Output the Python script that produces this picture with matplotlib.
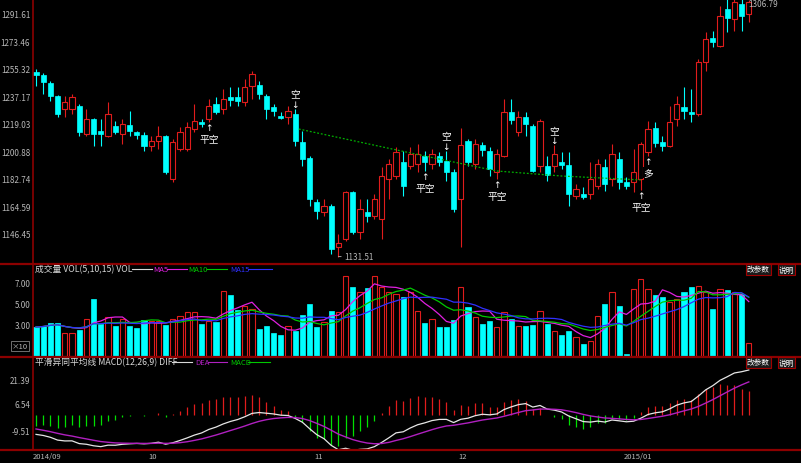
import numpy as np
import pandas as pd
import matplotlib
matplotlib.use('Agg')
import matplotlib.pyplot as plt
from matplotlib.patches import Rectangle
from matplotlib.lines import Line2D
import matplotlib.transforms as mtransforms

plt.rcParams['font.family'] = ['Noto Sans CJK SC', 'DejaVu Sans']

# ---------------- data ----------------
opens = [1253.3, 1251.3, 1246.1, 1237.5, 1228.9, 1228.9, 1230.9, 1212.4, 1222.3, 1214.4,
         1211.1, 1217.7, 1212.4, 1218.4, 1213.7, 1211.7, 1204.5, 1207.8, 1211.1, 1182.7,
         1202.5, 1202.5, 1215.7, 1220.3, 1222.3, 1232.2, 1228.9, 1236.8, 1236.8, 1233.5,
         1244.1, 1244.7, 1237.5, 1230.2, 1224.3, 1223.6, 1225.6, 1207.1, 1196.6, 1167.5,
         1160.9, 1164.9, 1137.9, 1143.1, 1174.1, 1147.7, 1160.9, 1158.3, 1156.3, 1182.7,
         1184.7, 1194.0, 1191.3, 1192.6, 1197.9, 1192.6, 1197.9, 1194.6, 1187.3, 1169.5,
         1207.8, 1192.6, 1205.2, 1201.2, 1187.3, 1197.9, 1226.9, 1213.7, 1223.6, 1217.7,
         1191.3, 1191.3, 1191.3, 1194.0, 1192.0, 1171.5, 1172.8, 1172.8, 1178.1, 1190.6,
         1182.7, 1195.9, 1180.7, 1180.7, 1182.7, 1200.6, 1216.4, 1207.1, 1204.5, 1222.3,
         1230.2, 1226.9, 1225.6, 1259.9, 1275.8, 1270.5, 1295.0, 1288.3, 1298.2, 1291.6]
highs = [1255.3, 1252.7, 1247.4, 1238.1, 1237.5, 1238.8, 1232.2, 1228.9, 1223.0, 1222.3,
         1233.5, 1221.0, 1222.3, 1227.6, 1214.4, 1213.7, 1211.1, 1217.7, 1211.7, 1209.1,
         1217.0, 1220.3, 1232.2, 1222.3, 1235.5, 1236.8, 1242.1, 1243.4, 1243.4, 1248.7,
         1254.0, 1247.4, 1238.8, 1232.2, 1226.9, 1230.9, 1228.9, 1214.4, 1197.9, 1169.5,
         1169.5, 1166.2, 1146.4, 1174.8, 1174.8, 1169.5, 1169.5, 1172.8, 1190.6, 1195.9,
         1203.8, 1201.2, 1203.8, 1205.8, 1201.2, 1202.5, 1200.6, 1201.2, 1189.3, 1216.4,
         1209.1, 1209.1, 1207.1, 1203.8, 1202.5, 1235.5, 1235.5, 1227.6, 1226.9, 1219.0,
         1222.3, 1197.9, 1205.0, 1200.6, 1200.6, 1179.4, 1177.4, 1194.0, 1195.9, 1195.9,
         1205.8, 1200.6, 1184.0, 1202.5, 1207.1, 1221.0, 1220.3, 1211.1, 1230.9, 1237.5,
         1243.4, 1242.1, 1261.9, 1279.7, 1280.4, 1296.9, 1302.5, 1304.0, 1306.79, 1301.0]
lows = [1244.1, 1238.8, 1234.2, 1223.6, 1223.6, 1225.6, 1211.1, 1211.1, 1204.5, 1204.5,
        1210.4, 1212.4, 1205.8, 1211.1, 1209.1, 1201.2, 1201.2, 1202.5, 1186.0, 1180.7,
        1201.5, 1201.2, 1213.7, 1217.0, 1220.3, 1225.6, 1225.6, 1230.9, 1230.9, 1230.9,
        1235.5, 1235.5, 1222.3, 1224.3, 1222.3, 1219.0, 1204.5, 1191.3, 1164.9, 1156.3,
        1158.3, 1133.2, 1131.51, 1141.8, 1146.4, 1143.1, 1154.3, 1156.3, 1143.1, 1169.5,
        1182.7, 1171.5, 1189.3, 1187.3, 1188.0, 1189.3, 1191.3, 1181.4, 1160.9, 1137.9,
        1191.3, 1189.3, 1197.9, 1184.7, 1182.7, 1197.3, 1219.0, 1211.1, 1211.1, 1187.3,
        1187.3, 1181.4, 1187.3, 1189.3, 1164.9, 1169.5, 1169.5, 1169.5, 1176.1, 1174.8,
        1178.1, 1176.1, 1176.1, 1174.1, 1175.5, 1197.9, 1203.8, 1201.2, 1203.8, 1217.7,
        1222.3, 1220.3, 1224.3, 1254.0, 1269.8, 1269.8, 1280.0, 1280.4, 1280.4, 1286.3]
closes = [1251.3, 1246.7, 1237.5, 1225.6, 1233.5, 1236.8, 1213.7, 1222.3, 1212.4, 1212.4,
          1225.6, 1213.7, 1219.0, 1214.4, 1211.7, 1204.5, 1207.8, 1211.1, 1187.3, 1207.1,
          1213.7, 1217.0, 1221.0, 1219.0, 1230.9, 1226.9, 1235.5, 1234.9, 1234.2, 1243.4,
          1252.0, 1238.8, 1228.9, 1227.6, 1222.9, 1227.6, 1207.8, 1195.9, 1169.5, 1161.6,
          1164.9, 1136.5, 1140.5, 1174.1, 1147.7, 1162.9, 1158.3, 1169.5, 1184.7, 1192.6,
          1200.6, 1178.1, 1199.2, 1199.2, 1194.0, 1199.2, 1194.0, 1187.3, 1162.9, 1205.2,
          1194.0, 1205.8, 1201.9, 1189.3, 1199.2, 1226.9, 1221.6, 1223.6, 1219.0, 1188.0,
          1221.0, 1185.3, 1199.2, 1192.0, 1172.8, 1176.1, 1170.8, 1182.7, 1192.6, 1179.4,
          1199.2, 1180.7, 1178.1, 1187.3, 1205.8, 1215.7, 1206.5, 1204.5, 1220.3, 1232.2,
          1227.6, 1225.6, 1259.9, 1275.1, 1273.1, 1290.3, 1289.0, 1299.5, 1290.3, 1299.5]
volumes = [2.76, 2.86, 3.14, 3.14, 2.19, 2.19, 2.48, 3.52, 5.43, 3.05,
           3.71, 2.86, 3.52, 2.86, 2.67, 3.43, 3.33, 3.33, 2.95, 3.52,
           3.81, 4.19, 4.19, 3.05, 3.33, 3.24, 6.19, 5.81, 4.38, 4.76,
           4.48, 2.57, 2.86, 2.19, 2.00, 2.86, 2.38, 3.90, 4.95, 2.76,
           3.24, 4.29, 4.19, 7.62, 6.57, 6.10, 6.48, 7.62, 6.57, 6.10,
           5.90, 5.62, 6.10, 4.29, 3.14, 3.52, 2.76, 2.76, 3.43, 6.57,
           4.67, 3.71, 3.05, 3.33, 2.76, 4.19, 3.52, 2.86, 2.86, 2.95,
           4.29, 3.05, 2.38, 2.00, 2.38, 1.81, 1.14, 1.43, 3.81, 4.95,
           6.10, 4.76, 0.19, 6.38, 7.33, 6.38, 5.81, 5.62, 5.14, 5.43,
           6.10, 6.57, 6.67, 6.10, 4.48, 6.38, 6.29, 6.10, 5.90, 1.24]

price_ticks = [1146.45, 1164.59, 1182.74, 1200.88, 1219.03, 1237.17, 1255.32, 1273.46, 1291.61]
vol_ticks = [3.0, 5.0, 7.0]
month_labels = ["2014/09", "10", "11", "12", "2015/01"]
month_starts = [0, 16, 39, 59, 82]

# trading signals: (bar index, text, side)
signals = [(24, "平空", "buy"), (36, "空", "sell"), (54, "平空", "buy"), (57, "空", "sell"),
           (64, "平空", "buy"), (72, "空", "sell"), (84, "平空", "buy"), (85, "多", "buy")]
# trailing stop line (bar index, price)
stop_idx = [36.5, 54, 64, 73, 84]
stop_val = [1215.7, 1197.9, 1188.0, 1184.7, 1182.1]

# MACD seeds (state before the first bar)
ema12_seed, ema26_seed, dea_seed = 1268.0, 1279.0, -7.5

# ---------------- styling ----------------
RED = '#e01c1c'
CYAN = '#00ffff'
GRAY = '#b8b8b8'
FRAME = '#8c0000'
W, H = 801, 464
n = len(closes)
x = np.arange(n)
bw = 0.72

fig = plt.figure(figsize=(W / 100, H / 100), dpi=100, facecolor='black')


def axrect(x0, y0, x1, y1):
    return [x0 / W, 1 - y1 / H, (x1 - x0) / W, (y1 - y0) / H]


ax_main = fig.add_axes(axrect(33, 0, 801, 264))
ax_vol = fig.add_axes(axrect(33, 266, 801, 357))
ax_macd = fig.add_axes(axrect(33, 359, 801, 450))
for a in (ax_main, ax_vol, ax_macd):
    a.set_facecolor('black')
    for s in a.spines.values():
        s.set_visible(False)
    a.set_xlim(-0.42, 106.25)
    a.set_xticks([])
    a.tick_params(axis='y', length=0, pad=2, labelsize=5.8, labelcolor=GRAY)

# ---------------- candlesticks ----------------
for i in range(n):
    o, h, l, c = opens[i], highs[i], lows[i], closes[i]
    if c >= o:
        ax_main.vlines(i, c, h, color=RED, lw=0.8)
        ax_main.vlines(i, l, o, color=RED, lw=0.8)
        ax_main.add_patch(Rectangle((i - bw / 2, o), bw, max(c - o, 0.3), facecolor='black',
                                    edgecolor=RED, lw=0.8))
    else:
        ax_main.vlines(i, l, h, color=CYAN, lw=0.8)
        ax_main.add_patch(Rectangle((i - bw / 2, c), bw, o - c, facecolor=CYAN,
                                    edgecolor=CYAN, lw=0.5))
ax_main.set_ylim(1127.3, 1301.5)
ax_main.set_yticks(price_ticks)
ax_main.set_yticklabels(["%.2f" % v for v in price_ticks])

# stop line
ax_main.plot(stop_idx, stop_val, color='#00b000', lw=0.9, ls=(0, (1.5, 1.5)))

# signals
for idx, txt, side in signals:
    if side == 'buy':
        ax_main.annotate('↑', (idx, lows[idx]), xytext=(0, -1), textcoords='offset points',
                         ha='center', va='top', color='white', fontsize=6.5,
                         family=['DejaVu Sans'])
        ax_main.annotate(txt, (idx, lows[idx]), xytext=(0, -8.5), textcoords='offset points',
                         ha='center', va='top', color='white', fontsize=7,
                         bbox=dict(boxstyle='square,pad=0.05', fc='black', ec='none'))
    else:
        ax_main.annotate('↓', (idx, highs[idx]), xytext=(0, 0), textcoords='offset points',
                         ha='center', va='bottom', color='white', fontsize=6.5,
                         family=['DejaVu Sans'])
        ax_main.annotate(txt, (idx, highs[idx]), xytext=(0, 7.5), textcoords='offset points',
                         ha='center', va='bottom', color='white', fontsize=7,
                         bbox=dict(boxstyle='square,pad=0.05', fc='black', ec='none'))

# low / high labels
imin = int(np.argmin(lows))
imax = int(np.argmax(highs))
ax_main.annotate("%.2f" % lows[imin], (imin, lows[imin]), xytext=(4, 0), textcoords='offset points',
                 ha='left', va='center', color=GRAY, fontsize=5.8,
                 arrowprops=dict(arrowstyle='-', color=GRAY, lw=0.6, shrinkA=0, shrinkB=0))
ax_main.annotate("%.2f" % highs[imax], (imax, 1301.5), xytext=(5, -3.5), textcoords='offset points',
                 ha='left', va='center', color=GRAY, fontsize=5.8)

# ---------------- volume ----------------
for i in range(n):
    if closes[i] >= opens[i]:
        ax_vol.add_patch(Rectangle((i - bw / 2, 0), bw, volumes[i], facecolor='none',
                                   edgecolor=RED, lw=0.8))
    else:
        ax_vol.add_patch(Rectangle((i - bw / 2, 0), bw, volumes[i], facecolor=CYAN,
                                   edgecolor=CYAN, lw=0.5))
vs = pd.Series(volumes)
ax_vol.plot(x, vs.rolling(5, min_periods=1).mean(), color='#e020e0', lw=0.9)
ax_vol.plot(x, vs.rolling(10, min_periods=1).mean(), color='#00c800', lw=0.9)
ax_vol.plot(x, vs.rolling(15, min_periods=1).mean(), color='#3030ff', lw=0.9)
ax_vol.set_ylim(0, 8.67)
ax_vol.set_yticks(vol_ticks)
ax_vol.set_yticklabels(["%.2f" % v for v in vol_ticks])

# ---------------- MACD ----------------
def ema(vals, nper, seed):
    a = 2.0 / (nper + 1)
    out, prev = [], seed
    for v in vals:
        prev = a * v + (1 - a) * prev
        out.append(prev)
    return np.array(out)

diff = ema(closes, 12, ema12_seed) - ema(closes, 26, ema26_seed)
dea = ema(diff, 9, dea_seed)
hist = 2 * (diff - dea)
scale = 45.0 / max(diff.max(), 1e-6)
ax_macd.set_ylim(-34.0 / scale, 57.0 / scale)
cols = [RED if v >= 0 else '#00e000' for v in hist]
ax_macd.vlines(x, 0, hist, colors=cols, lw=0.9)
ax_macd.plot(x, diff, color='#e6e6e6', lw=0.9)
ax_macd.plot(x, dea, color='#b020c0', lw=1.0)
mt = [36.0 / scale, 11.0 / scale, -16.0 / scale]
ax_macd.set_yticks(mt)
ax_macd.set_yticklabels(["%.2f" % v for v in mt])

# month labels
trans = mtransforms.blended_transform_factory(ax_macd.transData, ax_macd.transAxes)
for lab, pos in zip(month_labels, month_starts):
    ax_macd.text(pos - 0.4, -0.03, lab, transform=trans, ha='left', va='top',
                 color=GRAY, fontsize=5.5, clip_on=False)

# ---------------- frame lines ----------------
for yy in (264.8, 357.8, 450.5):
    fig.add_artist(Line2D([0, 1], [1 - yy / H] * 2, color=FRAME, lw=1.6))
fig.add_artist(Line2D([33 / W] * 2, [1 - 450 / H, 1], color=FRAME, lw=1.2))

# ---------------- titles ----------------
def ftext(px, py, s, color, fs=6.3):
    fig.text(px / W, 1 - py / H, s, color=color, fontsize=fs, ha='left', va='center')

def fline(x0, x1, py, color):
    fig.add_artist(Line2D([x0 / W, x1 / W], [1 - py / H] * 2, color=color, lw=0.8))

ftext(35, 270, "成交量 VOL(5,10,15) VOL", '#d8d8d8')
fline(132, 152, 270, '#d8d8d8')
ftext(153, 270, "MA5", '#e020e0', 5.5)
fline(167, 187, 270, '#e020e0')
ftext(188, 270, "MA10", '#00c800', 5.5)
fline(207, 227, 270, '#00c800')
ftext(230, 270, "MA15", '#3030ff', 5.5)
fline(248, 272, 270, '#3030ff')

ftext(35, 363, "平滑异同平均线 MACD(12,26,9) DIFF", '#d8d8d8')
fline(172, 192, 363, '#d8d8d8')
ftext(195, 363, "DEA", '#b020c0', 5.5)
fline(208, 227, 363, '#b020c0')
ftext(230, 363, "MACD", '#00c800', 5.5)
fline(248, 270, 363, '#00c800')

# buttons
for py in (270.5, 363.5):
    fig.text(747 / W, 1 - py / H, "改参数", color='white', fontsize=5.5, ha='left', va='center',
             bbox=dict(boxstyle='square,pad=0.15', fc='#1a1a1a', ec='#a00000', lw=0.8))
    fig.text(779 / W, 1 - py / H, "说明", color='white', fontsize=5.5, ha='left', va='center',
             bbox=dict(boxstyle='square,pad=0.15', fc='#1a1a1a', ec='#a00000', lw=0.8))
# unit box in volume panel
fig.text(12 / W, 1 - 347 / H, "×10", color=GRAY, fontsize=5.5, ha='left', va='center',
         bbox=dict(boxstyle='square,pad=0.15', fc='black', ec='#808080', lw=0.6))

fig.savefig('out.png', dpi=100, facecolor='black')
